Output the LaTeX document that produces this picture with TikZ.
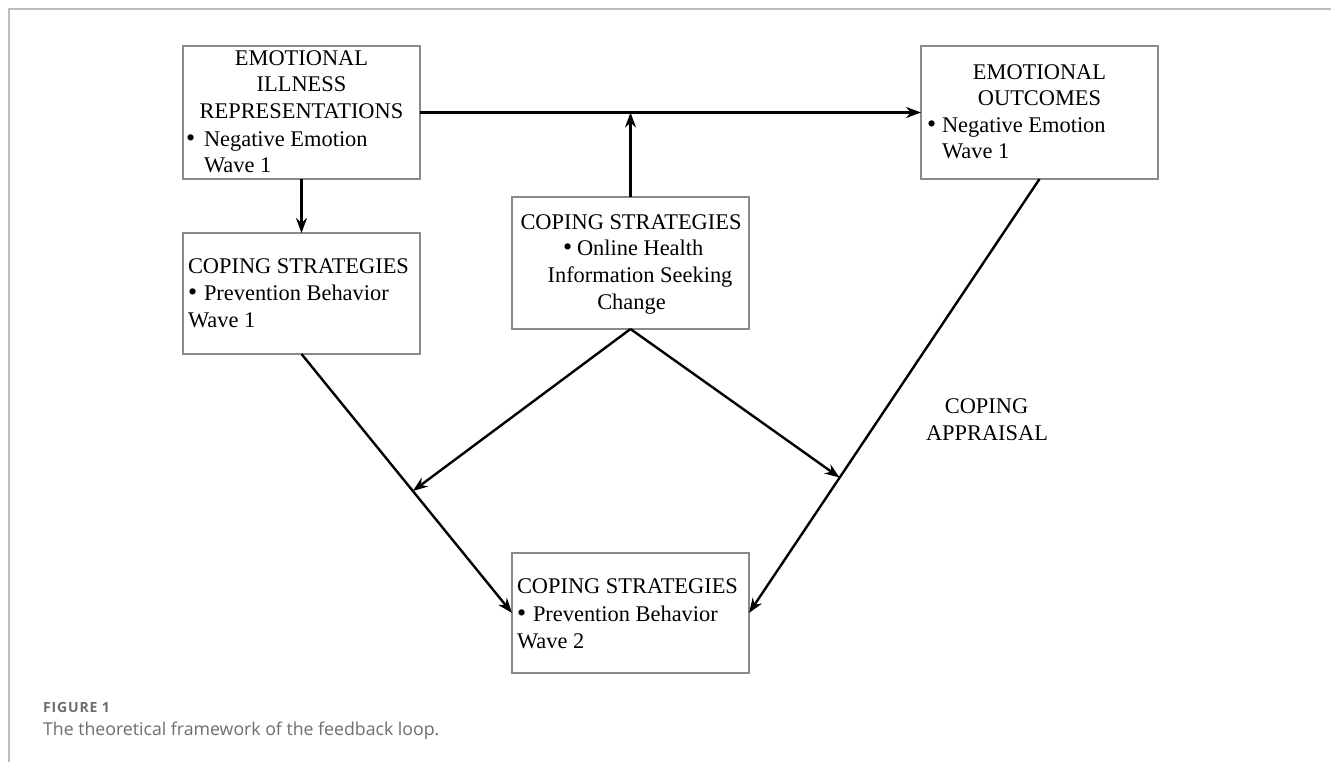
\documentclass[tikz,border=0pt]{standalone}
\usepackage{fontspec}
\setmainfont{Liberation Serif}
\newfontfamily\capfont{Open Sans}
\usetikzlibrary{arrows.meta,calc}
\definecolor{boxgray}{HTML}{8A8A8A}
\definecolor{framegray}{HTML}{BDBDBD}
\definecolor{capgray}{HTML}{6E6E6E}
\begin{document}
\begin{tikzpicture}[x=1pt,y=-1pt,
  box/.style={draw=boxgray, line width=1.3pt, inner sep=0pt, outer sep=0pt, anchor=north west, minimum width=237pt},
  txt/.style={inner sep=0pt, outer sep=0pt, font=\fontsize{22.4}{27}\selectfont},
  lt/.style={txt, anchor=base west},
  ct/.style={txt, anchor=base},
  arr/.style={line width=2.4pt, -{Stealth[length=15pt,width=11pt]}},
  bul/.style={lt, font=\fontsize{26}{27}\selectfont}]
\useasboundingbox (0,0) rectangle (1331,762);
\fill[white] (0,0) rectangle (1331,762);
\draw[framegray, line width=1.8pt] (9,762) -- (9,9) -- (1331,9);

% boxes
\node[box, minimum height=133pt] (A) at (183,46) {};
\node[box, minimum height=133pt] (B) at (921,46) {};
\node[box, minimum height=132pt] (C) at (512,197) {};
\node[box, minimum height=121pt] (D) at (183,233) {};
\node[box, minimum height=120pt] (E) at (512,553) {};

% box A text
\node[ct] (a1) at (301.5,66) {EMOTIONAL};
\node[ct] (a2) at (301.5,92) {ILLNESS};
\node[ct] (a3) at (301.5,119) {REPRESENTATIONS};
\node[bul] (a4) at (186,147) {\textbullet};
\node[lt] (a5) at (204,147) {Negative Emotion};
\node[lt] (a6) at (204,173) {Wave 1};

% box B text
\node[ct] (b1) at (1039.5,80) {EMOTIONAL};
\node[ct] (b2) at (1039.5,106) {OUTCOMES};
\node[bul] (b3) at (927,133) {\textbullet};
\node[lt] (b4) at (942,133) {Negative Emotion};
\node[lt] (b5) at (942,159) {Wave 1};

% box C text
\node[ct] (c1) at (631,230) {COPING STRATEGIES};
\node[bul] (c2) at (563,256) {\textbullet};
\node[lt] (c3) at (577,256) {Online Health};
\node[ct] (c4) at (640,283) {Information Seeking};
\node[ct] (c5) at (631.5,309) {Change};

% box D text
\node[lt] (d1) at (188,273) {COPING STRATEGIES};
\node[bul] (d2) at (188,300) {\textbullet};
\node[lt] (d3) at (204,300) {Prevention Behavior};
\node[lt] (d4) at (188,327) {Wave 1};

% box E text
\node[lt] (e1) at (517,593) {COPING STRATEGIES};
\node[bul] (e2) at (517,621) {\textbullet};
\node[lt] (e3) at (533,621) {Prevention Behavior};
\node[lt] (e4) at (517,648) {Wave 2};

% coping appraisal
\node[ct] (p1) at (986.5,413) {COPING};
\node[ct] (p2) at (987,440) {APPRAISAL};

% connectors
\draw[arr] (A.east) -- (B.west);
\coordinate (m1) at (C.north |- A.east);
\draw[arr] (C.north) -- (m1);
\draw[arr] (A.south) -- (D.north);
\draw[arr] (D.south) -- (E.west);
\draw[arr] (B.south) -- (E.east);
\coordinate (m2) at ($(D.south)!0.529!(E.west)$);
\coordinate (m3) at ($(B.south)!0.688!(E.east)$);
\draw[arr] (C.south) -- (m2);
\draw[arr] (C.south) -- (m3);

% caption
\node[inner sep=0pt, anchor=base west, text=capgray, font=\capfont\fontsize{14}{16}\selectfont\bfseries\addfontfeatures{LetterSpace=6}] (f1) at (43,712) {FIGURE 1};
\node[inner sep=0pt, anchor=base west, text=capgray, font=\capfont\fontsize{17.7}{20}\selectfont] (f2) at (43,735) {The theoretical framework of the feedback loop.};
\end{tikzpicture}
\end{document}
